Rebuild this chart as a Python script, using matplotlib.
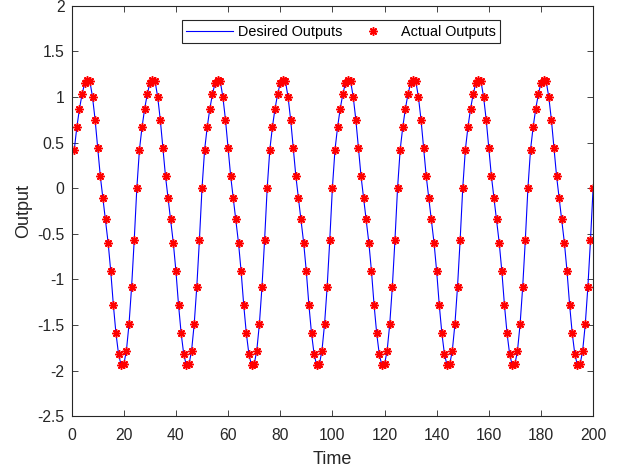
import numpy as np
import matplotlib
matplotlib.use('Agg')
import matplotlib.pyplot as plt
from matplotlib.ticker import FormatStrFormatter, MultipleLocator

plt.rcParams['font.family'] = ['Liberation Sans', 'DejaVu Sans']
plt.rcParams['axes.unicode_minus'] = False

# one period (25 samples), phase 1..24 then 0
cycle = [0.42, 0.67, 0.87, 1.03, 1.15, 1.19, 1.17, 1.00, 0.75, 0.44,
         0.13, -0.11, -0.34, -0.60, -0.91, -1.28, -1.59, -1.82, -1.94, -1.93,
         -1.78, -1.49, -1.08, -0.57, 0.00]
n_cycles = 8

time = np.arange(1, 25 * n_cycles + 1)
desired = np.tile(cycle, n_cycles)
actual = np.tile(cycle, n_cycles)

grey = '#262626'

fig = plt.figure(figsize=(6.23, 4.70), dpi=100)
ax = fig.add_axes([0.115, 0.114, 0.837, 0.874])

ax.plot(time, desired, color='blue', lw=0.8, label='Desired Outputs')
ax.plot(time, actual, ls='none', marker=(8, 2, 0), ms=6, mew=1.1,
        color='red', label='Actual Outputs')

ax.set_xlim(0, 200)
ax.set_ylim(-2.5, 2)
ax.xaxis.set_major_locator(MultipleLocator(20))
ax.yaxis.set_major_locator(MultipleLocator(0.5))
ax.yaxis.set_major_formatter(FormatStrFormatter('%g'))
ax.tick_params(direction='in', top=True, right=True, length=4, width=0.6,
               colors=grey, labelsize=11.3, labelcolor=grey)
ax.tick_params(axis='x', pad=8)
ax.tick_params(axis='y', pad=5)
for s in ax.spines.values():
    s.set_color(grey)
    s.set_linewidth(0.8)

ax.set_xlabel('Time', fontsize=13, color=grey, labelpad=6)
ax.set_ylabel('Output', fontsize=13, color=grey, labelpad=4)

leg = ax.legend(loc='upper center', ncol=2, fontsize=10.4, frameon=True,
                fancybox=False, edgecolor=grey, framealpha=1,
                bbox_to_anchor=(0.517, 0.964), handlelength=3.2,
                handletextpad=0.35, columnspacing=0.55, borderpad=0.3,
                borderaxespad=0)
leg.get_frame().set_linewidth(0.8)

fig.savefig('out.png', dpi=100)
